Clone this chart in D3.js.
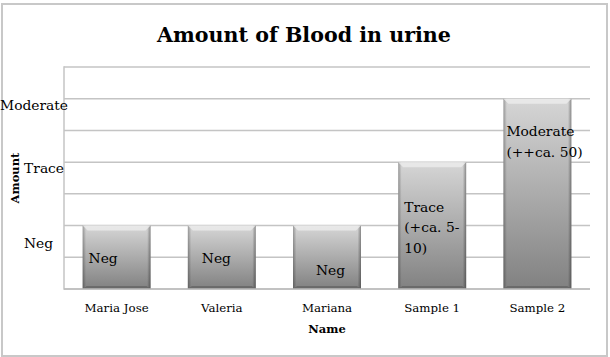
<!DOCTYPE html>
<html>
<head>
<meta charset="utf-8">
<script src="https://cdn.jsdelivr.net/npm/d3@7"></script>
<style>
  html, body { margin: 0; padding: 0; background: #fff; }
  svg { display: block; }
  text { font-family: "DejaVu Serif", serif; fill: #000; }
</style>
</head>
<body>
<svg id="chart" width="610" height="357"></svg>
<script>
// ---- data ----
const chartTitle = "Amount of Blood in urine";
const xAxisTitle = "Name";
const yAxisTitle = "Amount";
const categories = ["Maria Jose", "Valeria", "Mariana", "Sample 1", "Sample 2"];
const values = [2, 2, 2, 4, 6];
const barLabels = [["Neg"], ["Neg"], ["Neg"], ["Trace", "(+ca. 5-", "10)"], ["Moderate", "(++ca. 50)"]];
const yTickLabels = ["Neg", "Trace", "Moderate"];
const yTickValues = [1.45, 3.82, 5.8];
const yDomain = [0, 7];
const gridValues = [0, 1, 2, 3, 4, 5, 6, 7];

// ---- layout ----
const W = 610, H = 357;
const plot = { left: 64, right: 590, top: 67, bottom: 289 };
// hand-placed label positions in the original (offset from bar left / bar top)
const labelOffsets = [[6, 37], [14, 37], [23, 49], [6, 50], [3, 37.5]];
const yLabelRight = [53, 64, 68];

const svg = d3.select("#chart");

const defs = svg.append("defs");
const gv = defs.append("linearGradient").attr("id", "barV").attr("x1", 0).attr("y1", 0).attr("x2", 0).attr("y2", 1);
gv.append("stop").attr("offset", "0%").attr("stop-color", "#d6d6d6");
gv.append("stop").attr("offset", "100%").attr("stop-color", "#818181");
const gh = defs.append("linearGradient").attr("id", "barH").attr("x1", 0).attr("y1", 0).attr("x2", 1).attr("y2", 0);
gh.append("stop").attr("offset", "0%").attr("stop-color", "#000").attr("stop-opacity", 0.28);
gh.append("stop").attr("offset", "5%").attr("stop-color", "#000").attr("stop-opacity", 0.0);
gh.append("stop").attr("offset", "95%").attr("stop-color", "#000").attr("stop-opacity", 0.0);
gh.append("stop").attr("offset", "100%").attr("stop-color", "#000").attr("stop-opacity", 0.35);

// outer chart border
svg.append("rect").attr("x", 2).attr("y", 4).attr("width", 605).attr("height", 352)
  .attr("fill", "#fff").attr("stroke", "#c8c8c8").attr("stroke-width", 2);

const x = d3.scaleBand().domain(categories).range([plot.left, plot.right])
  .paddingInner(0.354).paddingOuter(0.177);
const y = d3.scaleLinear().domain(yDomain).range([plot.bottom, plot.top]);

// gridlines
svg.append("g").selectAll("line").data(gridValues).join("line")
  .attr("x1", plot.left).attr("x2", plot.right)
  .attr("y1", d => y(d)).attr("y2", d => y(d))
  .attr("stroke", "#c4c4c4").attr("stroke-width", 1.5);

// plot left border
svg.append("line").attr("x1", plot.left).attr("x2", plot.left)
  .attr("y1", plot.top - 0.75).attr("y2", plot.bottom + 0.75)
  .attr("stroke", "#c4c4c4").attr("stroke-width", 1.5);

// bars
const bars = svg.append("g").selectAll("g").data(categories).join("g");
bars.append("rect")
  .attr("x", d => x(d)).attr("width", x.bandwidth())
  .attr("y", (d, i) => y(values[i])).attr("height", (d, i) => y(0) - y(values[i]))
  .attr("fill", "url(#barV)");
bars.append("rect")
  .attr("x", d => x(d)).attr("width", x.bandwidth())
  .attr("y", (d, i) => y(values[i])).attr("height", (d, i) => y(0) - y(values[i]))
  .attr("fill", "url(#barH)");
// top bevel highlight
bars.append("path")
  .attr("d", (d, i) => {
    const x0 = x(d), x1 = x(d) + x.bandwidth(), t = y(values[i]);
    return `M${x0},${t} L${x1},${t} L${x1 - 5},${t + 5} L${x0 + 5},${t + 5} Z`;
  })
  .attr("fill", "#ececec").attr("opacity", 0.8);
// bottom shading
bars.append("path")
  .attr("d", (d, i) => {
    const x0 = x(d), x1 = x(d) + x.bandwidth(), b = y(0);
    return `M${x0},${b} L${x1},${b} L${x1 - 4},${b - 3} L${x0 + 4},${b - 3} Z`;
  })
  .attr("fill", "#5a5a5a").attr("opacity", 0.6);

// bar labels
bars.each(function (d, i) {
  const t = d3.select(this).append("text")
    .attr("x", x(d) + labelOffsets[i][0])
    .attr("y", y(values[i]) + labelOffsets[i][1])
    .attr("font-size", 13.8);
  barLabels[i].forEach((line, k) => {
    t.append("tspan").attr("x", x(d) + labelOffsets[i][0]).attr("dy", k === 0 ? 0 : 20.3).text(line);
  });
});

// x axis line
svg.append("line").attr("x1", plot.left).attr("x2", plot.right)
  .attr("y1", plot.bottom).attr("y2", plot.bottom)
  .attr("stroke", "#bdbdbd").attr("stroke-width", 1.5);

// x tick labels
svg.append("g").selectAll("text").data(categories).join("text")
  .attr("x", d => x(d) + x.bandwidth() / 2).attr("y", 312)
  .attr("text-anchor", "middle").attr("font-size", 11.8)
  .text(d => d);

// y tick labels
svg.append("g").selectAll("text").data(yTickLabels).join("text")
  .attr("x", (d, i) => yLabelRight[i]).attr("y", (d, i) => y(yTickValues[i]) + 5)
  .attr("text-anchor", "end").attr("font-size", 13.8)
  .text(d => d);

// titles
svg.append("text").attr("x", 304).attr("y", 42).attr("text-anchor", "middle")
  .attr("font-size", 20.6).attr("font-weight", "bold").text(chartTitle);
svg.append("text").attr("x", (plot.left + plot.right) / 2).attr("y", 333).attr("text-anchor", "middle")
  .attr("font-size", 11.5).attr("font-weight", "bold").text(xAxisTitle);
svg.append("text").attr("transform", `translate(19,${(plot.top + plot.bottom) / 2}) rotate(-90)`)
  .attr("text-anchor", "middle").attr("font-size", 11.5).attr("font-weight", "bold").text(yAxisTitle);
</script>
</body>
</html>
